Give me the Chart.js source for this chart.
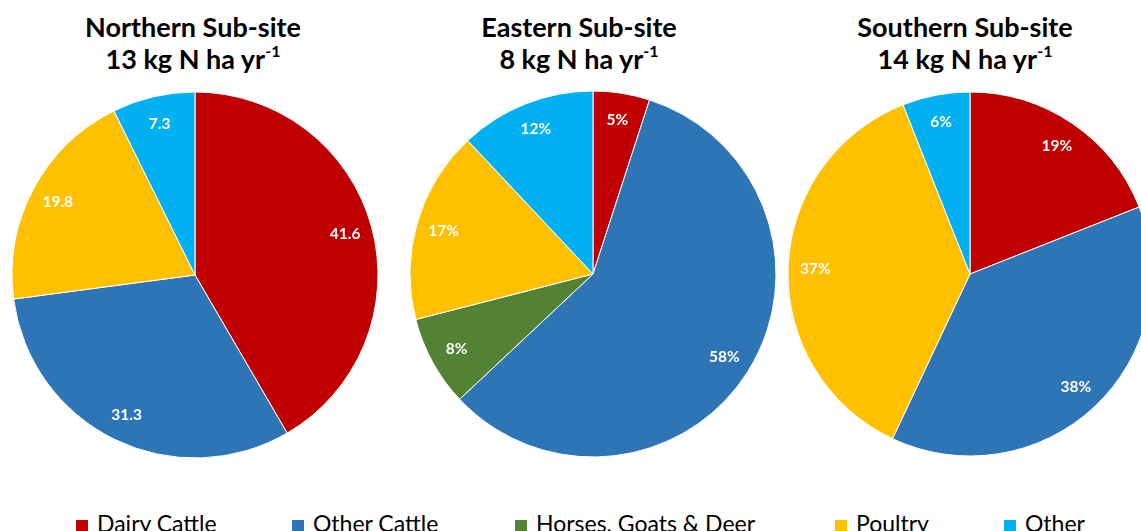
<!DOCTYPE html>
<html>
<head>
<meta charset="utf-8">
<script src="https://cdn.jsdelivr.net/npm/chart.js@4.4.1/dist/chart.umd.min.js"></script>
<style>
  html, body { margin: 0; padding: 0; background: #fff; }
  body { width: 1141px; height: 531px; overflow: hidden; position: relative; font-family: Lato, "Open Sans", sans-serif; }
  .title { position: absolute; width: 320px; text-align: center; font-weight: bold; font-size: 27px; line-height: 32px; color: #000; top: 11px; }
  .title sup { font-size: 16px; line-height: 0; position: relative; top: -2px; }
  .pie { position: absolute; }
  .legend-item { position: absolute; top: 510px; font-size: 23px; color: #000; white-space: nowrap; line-height: 26px; }
  .legend-item span.box { display: inline-block; width: 12px; height: 12px; margin-right: 9px; vertical-align: 0px; }
</style>
</head>
<body>
<div class="title" style="left:33px">Northern Sub-site<br>13 kg N ha yr<sup>-1</sup></div>
<div class="title" style="left:419px">Eastern Sub-site<br>8 kg N ha yr<sup>-1</sup></div>
<div class="title" style="left:805px">Southern Sub-site<br>14 kg N ha yr<sup>-1</sup></div>

<canvas id="north" class="pie" style="left:5px;top:85px" width="380" height="380"></canvas>
<canvas id="east" class="pie" style="left:403px;top:84px" width="380" height="380"></canvas>
<canvas id="south" class="pie" style="left:780px;top:84px" width="380" height="380"></canvas>

<div id="legend"></div>

<script>
  "use strict";

  const categories = ["Dairy Cattle", "Other Cattle", "Horses, Goats & Deer", "Poultry", "Other"];
  const colors = ["#C00000", "#2E75B6", "#548235", "#FFC000", "#00B0F0"];

  const northernValues = [41.6, 31.3, 0, 19.8, 7.3];
  const easternValues = [5, 58, 8, 17, 12];
  const southernValues = [19, 38, 0, 37, 6];

  const legendLeft = [76, 292, 515, 835, 1004];

  // white labels inside each slice
  const sliceLabels = {
    id: "sliceLabels",
    afterDatasetsDraw(chart, args, opts) {
      const { ctx } = chart;
      const meta = chart.getDatasetMeta(0);
      const values = chart.data.datasets[0].data;
      ctx.save();
      ctx.fillStyle = "#fff";
      ctx.font = "bold 15.5px Lato, sans-serif";
      ctx.textAlign = "center";
      ctx.textBaseline = "middle";
      meta.data.forEach((arc, i) => {
        const v = values[i];
        if (!v) return;
        const p = arc.getProps(["x", "y", "startAngle", "endAngle", "outerRadius"], true);
        const mid = (p.startAngle + p.endAngle) / 2;
        const r = p.outerRadius * 0.85;
        const text = opts.percent ? v + "%" : v.toFixed(1);
        ctx.fillText(text, p.x + Math.cos(mid) * r, p.y + Math.sin(mid) * r);
      });
      ctx.restore();
    }
  };

  function createPie(id, values, radius, percent) {
    return new Chart(document.getElementById(id), {
      type: "pie",
      data: {
        labels: categories,
        datasets: [{
          data: values,
          backgroundColor: colors,
          borderColor: "#fff",
          borderWidth: 1
        }]
      },
      options: {
        responsive: false,
        animation: false,
        radius: radius,
        layout: { padding: 0 },
        plugins: {
          legend: { display: false },
          tooltip: { enabled: false },
          sliceLabels: { percent }
        }
      },
      plugins: [sliceLabels]
    });
  }

  createPie("north", northernValues, 183, false);
  createPie("east", easternValues, 183, true);
  createPie("south", southernValues, 182, true);

  const legend = document.getElementById("legend");
  categories.forEach((name, i) => {
    const item = document.createElement("div");
    item.className = "legend-item";
    item.style.left = legendLeft[i] + "px";
    item.innerHTML = `<span class="box" style="background:${colors[i]}"></span>${name}`;
    legend.appendChild(item);
  });
</script>
</body>
</html>
